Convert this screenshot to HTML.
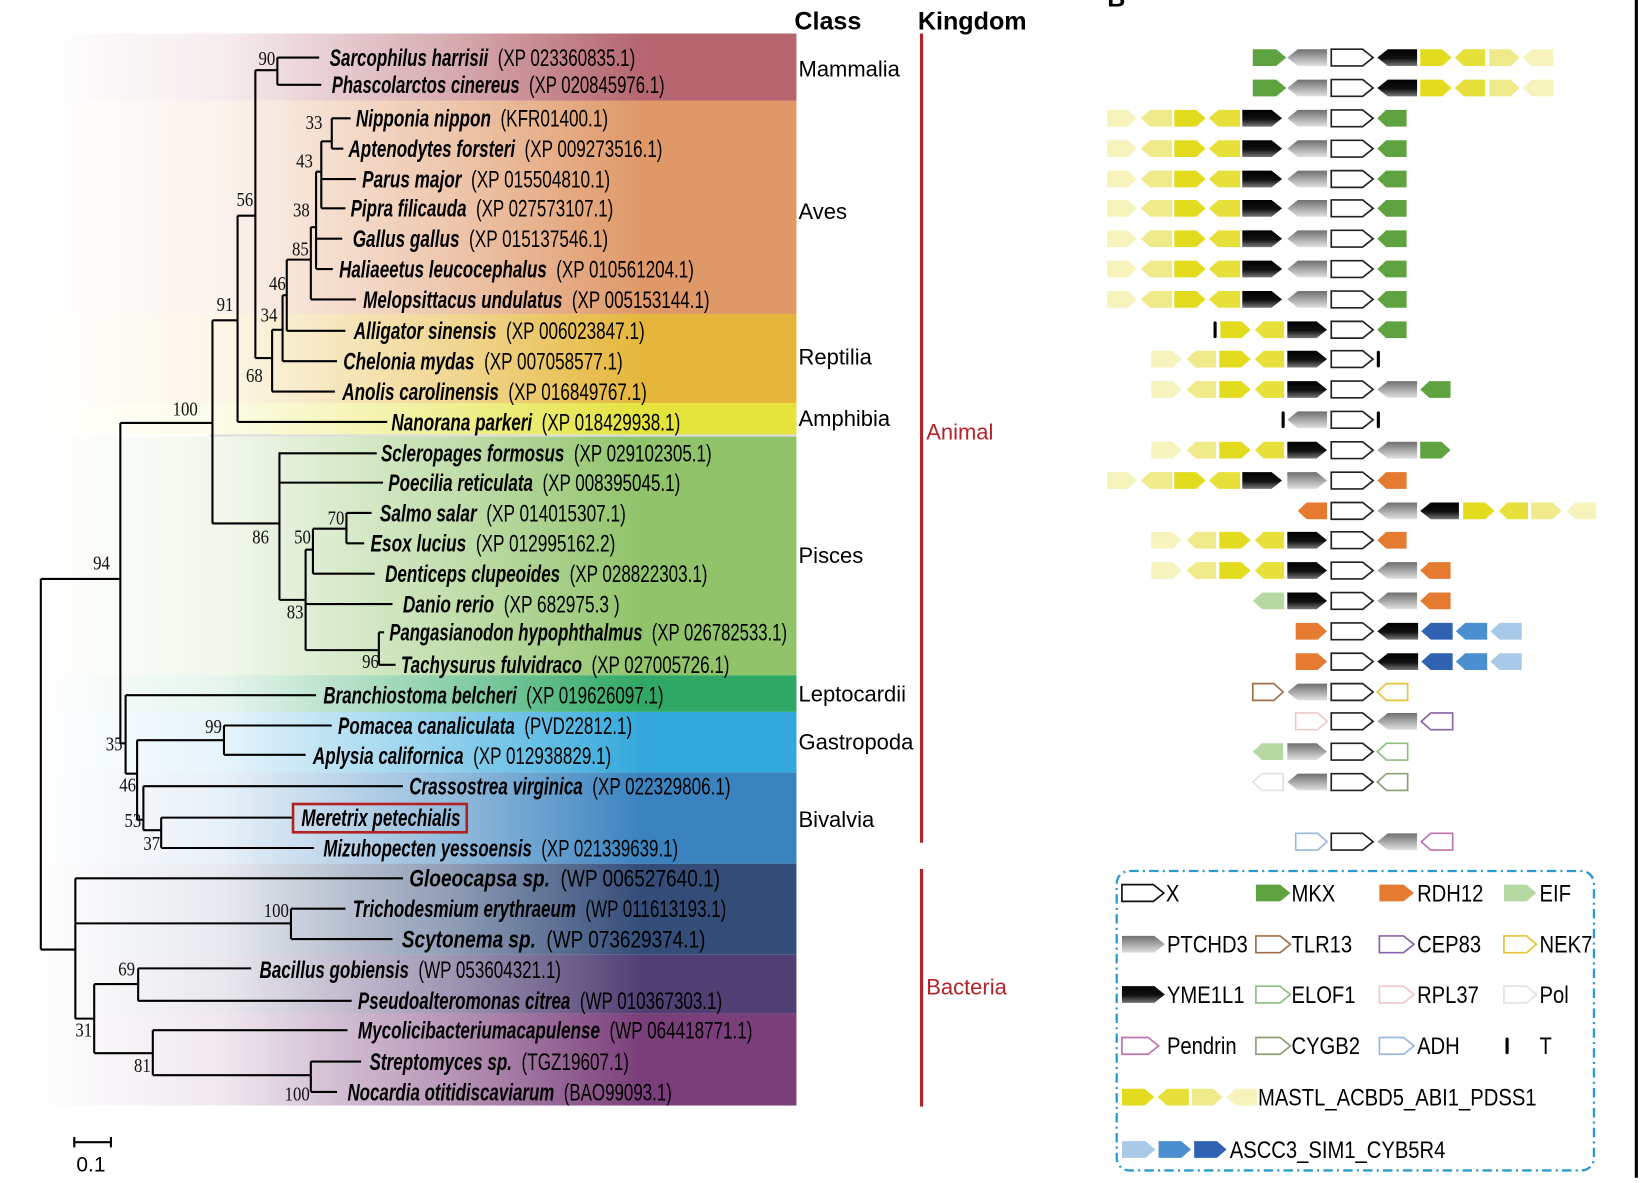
<!DOCTYPE html>
<html><head><meta charset="utf-8"><style>
html,body{margin:0;padding:0;background:#fff;width:1640px;height:1183px;overflow:hidden}
svg{display:block}
text{font-family:"Liberation Sans",sans-serif}
.bs{font-family:"Liberation Serif",serif;font-size:19px;fill:#111}
</style></head><body>
<svg id="s" width="1640" height="1183" viewBox="0 0 1567 1130" preserveAspectRatio="none" xmlns="http://www.w3.org/2000/svg">
<defs>
<linearGradient id="gGray" x1="0" y1="0" x2="0" y2="1"><stop offset="0" stop-color="#6f6f6f"/><stop offset="1" stop-color="#e0e0e0"/></linearGradient>
<linearGradient id="gBlack" x1="0" y1="0" x2="0" y2="1"><stop offset="0" stop-color="#000"/><stop offset="0.55" stop-color="#111"/><stop offset="1" stop-color="#777"/></linearGradient>
</defs>
<g id="bands"></g>
<g id="tree" stroke="#000" stroke-width="2" fill="none"></g>
<g id="labels"></g>
<g id="genes"></g>
</svg>
<script>
const NS="http://www.w3.org/2000/svg";
const S=document.getElementById('s');
function el(tag,attrs,parent,txt){const e=document.createElementNS(NS,tag);for(const k in attrs)e.setAttribute(k,attrs[k]);if(txt!==undefined)e.textContent=txt;(parent||S).appendChild(e);return e;}
const defs=S.querySelector('defs');
const bands=[[32,96,'#b5666f'],[96,300,'#df9868'],[300,385,'#e5b63a'],[385,415,'#e3e33c'],[417,645,'#90c36a'],[645,680,'#2ea864'],[680,738,'#33a8dc'],[738,825,'#3a83bf'],[825,912,'#334c78'],[912,968,'#503f73'],[968,1056,'#7a3e7a']];
const BG=document.getElementById('bands');
bands.forEach((b,i)=>{
 const g=el('linearGradient',{id:'b'+i,x1:'0',y1:'0',x2:'1',y2:'0'},defs);
 el('stop',{offset:'0','stop-color':b[2],'stop-opacity':'0'},g);
 el('stop',{offset:'0.25','stop-color':b[2],'stop-opacity':'0.12'},g);
 el('stop',{offset:'0.55','stop-color':b[2],'stop-opacity':'0.55'},g);
 el('stop',{offset:'0.8','stop-color':b[2],'stop-opacity':'1'},g);
 el('stop',{offset:'1','stop-color':b[2],'stop-opacity':'1'},g);
 el('rect',{x:30,y:b[0],width:731,height:b[1]-b[0],fill:'url(#b'+i+')'},BG);
});
el('rect',{x:200,y:415,width:561,height:2,fill:'#ddd'},BG);
const T=document.getElementById('tree');
function H(x1,x2,y){el('line',{x1:x1,y1:y,x2:x2,y2:y},T);}
function V(x,y1,y2){el('line',{x1:x,y1:y1,x2:x,y2:y2},T);}
V(39,553,907);H(39,115,553);H(39,72,907);
V(115,404,710);H(115,203,404);
V(203,306,500);H(203,227,306);
V(227,206,403);H(227,370,403);
H(227,244,206);V(244,67,342);H(244,265,67);V(265,55,81);H(265,305,55);H(265,307,81);
H(244,260,342);V(260,315,374);H(260,320,374);
H(260,270,315);V(270,282,345);H(270,322,345);
H(270,274,282);V(274,248,316);H(274,330,316);
H(274,297,248);V(297,217,286);H(297,340,286);
H(297,302,217);V(302,164,257);H(302,318,257);H(302,327,228);
H(302,307,164);V(307,135,199);H(307,330,199);H(307,340,171);
H(307,317,135);V(317,113,142);H(317,335,113);H(317,328,142);
H(203,267,500);V(267,432,573);H(267,360,433);H(267,366,461);
H(267,292,573);V(292,525,621);H(292,375,577);H(292,362,621);
V(362,604,635);H(362,367,604);H(362,378,635);
H(292,299,525);V(299,505,548);H(299,358,548);
H(299,331,505);V(331,490,519);H(331,355,490);H(331,348,519);
H(115,120,710);V(120,664,739);H(120,302,664);
H(120,131,739);V(131,707,783);H(131,214,707);V(214,693,721);H(214,317,693);H(214,292,721);
H(131,137,783);V(137,751,793);H(137,385,751);
H(137,154,793);V(154,781,810);H(154,280,781);H(154,300,810);
V(72,839,973);H(72,385,839);H(72,278,882);V(278,868,897);H(278,330,868);H(278,375,897);
H(72,90,973);V(90,940,1006);H(90,132,940);V(132,925,956);H(132,240,925);H(132,336,956);
H(90,146,1006);V(146,984,1027);H(146,332,984);H(146,297,1027);V(297,1014,1043);H(297,345,1014);H(297,322,1043);
H(70,107,1091);V(71,1086,1096);V(106,1086,1096);
const L=document.getElementById('labels');
const leaves=[
['Sarcophilus harrisii','(XP 023360835.1)',315,607,55],
['Phascolarctos cinereus','(XP 020845976.1)',317,635,81],
['Nipponia nippon','(KFR01400.1)',340,581,113],
['Aptenodytes forsteri','(XP 009273516.1)',333,633,142],
['Parus major','(XP 015504810.1)',346,583,171],
['Pipra filicauda','(XP 027573107.1)',335,586,199],
['Gallus gallus','(XP 015137546.1)',337,581,228],
['Haliaeetus leucocephalus','(XP 010561204.1)',324,663,257],
['Melopsittacus undulatus','(XP 005153144.1)',347,678,286],
['Alligator sinensis','(XP 006023847.1)',338,616,316],
['Chelonia mydas','(XP 007058577.1)',328,595,345],
['Anolis carolinensis','(XP 016849767.1)',327,618,374],
['Nanorana parkeri','(XP 018429938.1)',374,650,403],
['Scleropages formosus','(XP 029102305.1)',364,680,433],
['Poecilia reticulata','(XP 008395045.1)',371,650,461],
['Salmo salar','(XP 014015307.1)',363,598,490],
['Esox lucius','(XP 012995162.2)',354,588,519],
['Denticeps clupeoides','(XP 028822303.1)',368,676,548],
['Danio rerio','(XP 682975.3 )',385,592,577],
['Pangasianodon hypophthalmus','(XP 026782533.1)',372,752,604],
['Tachysurus fulvidraco','(XP 027005726.1)',383,697,635],
['Branchiostoma belcheri','(XP 019626097.1)',309,634,664],
['Pomacea canaliculata','(PVD22812.1)',323,604,693],
['Aplysia californica','(XP 012938829.1)',299,584,722],
['Crassostrea virginica','(XP 022329806.1)',391,698,751],
['Meretrix petechialis','',288,440,781],
['Mizuhopecten yessoensis','(XP 021339639.1)',309,648,810],
['Gloeocapsa sp.','(WP 006527640.1)',391,688,839],
['Trichodesmium erythraeum','(WP 011613193.1)',337,694,868],
['Scytonema sp.','(WP 073629374.1)',384,674,897],
['Bacillus gobiensis','(WP 053604321.1)',248,536,926],
['Pseudoalteromonas citrea','(WP 010367303.1)',342,690,956],
['Mycolicibacteriumacapulense','(WP 064418771.1)',342,719,984],
['Streptomyces sp.','(TGZ19607.1)',353,601,1014],
['Nocardia otitidiscaviarum','(BAO99093.1)',332,642,1043]];
leaves.forEach(l=>{
 const t=el('text',{x:l[2],y:l[4]+8,'font-size':23,textLength:l[3]-l[2],lengthAdjust:'spacingAndGlyphs',fill:'#000'},L);
 el('tspan',{'font-weight':'bold','font-style':'italic'},t,l[0]);
 if(l[1]) el('tspan',{},t,'\u00a0 '+l[1]);
});
el('rect',{x:280,y:768,width:166,height:27,fill:'none',stroke:'#b22222','stroke-width':2.5},L);
const bs=[['90',255,55],['33',300,116],['43',291,153],['56',234,190],['38',288,200],['85',287,237],['46',265,270],['91',215,290],['34',257,300],['68',243,358],['100',177,390],['86',249,512],['70',321,494],['50',289,512],['83',282,584],['96',354,631],['94',97,537],['99',204,693],['35',109,710],['46',122,749],['53',127,783],['37',145,805],['100',264,869],['69',121,925],['31',80,983],['81',136,1017],['100',284,1044]];
bs.forEach(b=>{const w=b[0].length*8;el('text',{x:b[1]-w/2,y:b[2]+7,class:'bs',textLength:w,lengthAdjust:'spacingAndGlyphs'},L,b[0]);});
el('text',{x:73,y:1119,'font-size':20,fill:'#000'},L,'0.1');
[['Mammalia',65],['Aves',201],['Reptilia',340],['Amphibia',399],['Pisces',530],['Leptocardii',662],['Gastropoda',708],['Bivalvia',782]].forEach(c=>el('text',{x:763,y:c[1]+8,'font-size':21,fill:'#000'},L,c[0]));
el('text',{x:759,y:28,'font-size':24,'font-weight':'bold',fill:'#000'},L,'Class');
el('text',{x:877,y:28,'font-size':24,'font-weight':'bold',fill:'#000'},L,'Kingdom');
el('rect',{x:879,y:32,width:3,height:773,fill:'#b5232a'},L);
el('rect',{x:879,y:830,width:3,height:227,fill:'#b5232a'},L);
el('text',{x:885,y:420,'font-size':21,fill:'#b5232a'},L,'Animal');
el('text',{x:885,y:950,'font-size':21,fill:'#b5232a'},L,'Bacteria');
el('rect',{x:1562,y:0,width:3,height:1125,fill:'#000'},L);
el('text',{x:1058,y:6,'font-size':24,'font-weight':'bold',fill:'#000'},L,'B');
const G=document.getElementById('genes');
const C={Y1:'#e3dc1e',Y2:'#e8e03a',Y3:'#efea8a',Y4:'#f6f3bc',GR:'#5ea33f',OR:'#e57a31',LG:'#b6d9a4',B1:'#2f62b0',B2:'#4a8fd0',B3:'#a8cae8',K:'url(#gBlack)',S:'url(#gGray)'};
function gene(x,y,w,d,fill,stroke,h){h=h||16;const p=Math.min(10,w*0.3);let pts;
 if(d==='R')pts=[[x,y-h/2],[x+w-p,y-h/2],[x+w,y],[x+w-p,y+h/2],[x,y+h/2]];
 else pts=[[x+p,y-h/2],[x+w,y-h/2],[x+w,y+h/2],[x+p,y+h/2],[x,y]];
 el('polygon',{points:pts.map(q=>q.join(',')).join(' '),fill:stroke?'#fff':fill,stroke:stroke||'none','stroke-width':stroke?1.6:0},G);}
function bar(x,y){el('rect',{x:x-1.5,y:y-8,width:3,height:16,rx:1.5,fill:'#000'},G);}
function Xg(y){gene(1272,y,40,'R',null,'#222');}
function stdLeft(y){gene(1058,y,28,'R',C.Y4);gene(1090,y,30,'L',C.Y3);gene(1122,y,30,'R',C.Y1);gene(1155,y,30,'L',C.Y2);}
function midLeft(y){gene(1100,y,29,'R',C.Y4);gene(1134,y,28,'L',C.Y3);gene(1165,y,30,'R',C.Y1);gene(1199,y,28,'L',C.Y2);}
const ry=[55,84,113,142,171,199,228,257,286,315,343,372,401,430,459,488,516,545,574,603,632,661,689,718,747,775,804];
for(let i=0;i<2;i++){const y=ry[i];gene(1197,y,32,'R',C.GR);gene(1230,y,38,'L',C.S);Xg(y);gene(1316,y,38,'L',C.K);gene(1357,y,30,'R',C.Y1);gene(1390,y,29,'L',C.Y2);gene(1423,y,29,'R',C.Y3);gene(1455,y,29,'L',C.Y4);}
for(let i=2;i<9;i++){const y=ry[i];stdLeft(y);gene(1187,y,38,'R',C.K);gene(1230,y,38,'L',C.S);Xg(y);gene(1316,y,28,'L',C.GR);}
let y=ry[9];bar(1161,y);gene(1166,y,29,'R',C.Y1);gene(1199,y,28,'L',C.Y2);gene(1230,y,38,'R',C.K);Xg(y);gene(1316,y,28,'L',C.GR);
y=ry[10];midLeft(y);gene(1230,y,38,'R',C.K);Xg(y);bar(1317,y);
y=ry[11];midLeft(y);gene(1230,y,38,'R',C.K);Xg(y);gene(1316,y,38,'L',C.S);gene(1357,y,29,'L',C.GR);
y=ry[12];bar(1226,y);gene(1230,y,38,'L',C.S);Xg(y);bar(1317,y);
y=ry[13];midLeft(y);gene(1230,y,38,'R',C.K);Xg(y);gene(1316,y,38,'L',C.S);gene(1357,y,29,'R',C.GR);
y=ry[14];stdLeft(y);gene(1187,y,38,'R',C.K);gene(1230,y,38,'R',C.S);Xg(y);gene(1316,y,28,'L',C.OR);
y=ry[15];gene(1240,y,28,'L',C.OR);Xg(y);gene(1316,y,38,'L',C.S);gene(1357,y,37,'L',C.K);gene(1398,y,30,'R',C.Y1);gene(1432,y,28,'L',C.Y2);gene(1463,y,29,'R',C.Y3);gene(1497,y,28,'L',C.Y4);
y=ry[16];midLeft(y);gene(1230,y,38,'R',C.K);Xg(y);gene(1316,y,28,'L',C.OR);
y=ry[17];midLeft(y);gene(1230,y,38,'R',C.K);Xg(y);gene(1316,y,38,'L',C.S);gene(1357,y,29,'L',C.OR);
y=ry[18];gene(1197,y,30,'L',C.LG);gene(1230,y,38,'R',C.K);Xg(y);gene(1316,y,38,'L',C.S);gene(1357,y,29,'L',C.OR);
for(const i of [19,20]){y=ry[i];gene(1238,y,30,'R',C.OR);Xg(y);gene(1316,y,39,'L',C.K);gene(1358,y,30,'L',C.B1);gene(1391,y,30,'L',C.B2);gene(1424,y,30,'L',C.B3);}
y=ry[21];gene(1197,y,29,'R',null,'#a0704a');gene(1230,y,38,'L',C.S);Xg(y);gene(1316,y,29,'L',null,'#e8c33a');
y=ry[22];gene(1238,y,30,'R',null,'#f0c8c8');Xg(y);gene(1316,y,38,'L',C.S);gene(1358,y,30,'L',null,'#8a64a8');
y=ry[23];gene(1197,y,29,'L',C.LG);gene(1230,y,38,'R',C.S);Xg(y);gene(1316,y,29,'L',null,'#8cbf80');
y=ry[24];gene(1197,y,29,'L',null,'#e2e2e2');gene(1230,y,38,'L',C.S);Xg(y);gene(1316,y,29,'L',null,'#8ca078');
y=ry[26];gene(1238,y,30,'R',null,'#9ab8dc');Xg(y);gene(1316,y,38,'L',C.S);gene(1358,y,30,'L',null,'#c072b0');
el('rect',{x:1067,y:832,width:456,height:286,rx:12,fill:'none',stroke:'#2a9bd0','stroke-width':2.2,'stroke-dasharray':'9,4,2,4'},G);
function lt(x,y,s){el('text',{x:0,y:0,'font-size':23,fill:'#000',transform:'translate('+x+','+(y+8)+') scale(0.84,1)'},G,s);}
const r=[853,902,950,999,1048,1098];
gene(1072,r[0],40,'R',null,'#111');lt(1114,r[0],'X');
gene(1200,r[0],33,'R',C.GR);lt(1234,r[0],'MKX');
gene(1318,r[0],33,'R',C.OR);lt(1354,r[0],'RDH12');
gene(1437,r[0],31,'R',C.LG);lt(1471,r[0],'EIF');
gene(1072,r[1],41,'R',C.S);lt(1115,r[1],'PTCHD3');
gene(1200,r[1],33,'R',null,'#a0704a');lt(1234,r[1],'TLR13');
gene(1318,r[1],33,'R',null,'#8a64a8');lt(1354,r[1],'CEP83');
gene(1437,r[1],31,'R',null,'#e8c33a');lt(1471,r[1],'NEK7');
gene(1072,r[2],41,'R',C.K);lt(1115,r[2],'YME1L1');
gene(1200,r[2],33,'R',null,'#8cbf80');lt(1234,r[2],'ELOF1');
gene(1318,r[2],33,'R',null,'#f0c8c8');lt(1354,r[2],'RPL37');
gene(1437,r[2],31,'R',null,'#e2e2e2');lt(1471,r[2],'Pol');
gene(1072,r[3],35,'R',null,'#c072b0');lt(1115,r[3],'Pendrin');
gene(1200,r[3],33,'R',null,'#8ca078');lt(1234,r[3],'CYGB2');
gene(1318,r[3],33,'R',null,'#9ab8dc');lt(1354,r[3],'ADH');
bar(1440,r[3]);lt(1471,r[3],'T');
gene(1072,r[4],31,'R',C.Y1);gene(1106,r[4],30,'L',C.Y2);gene(1139,r[4],29,'R',C.Y3);gene(1172,r[4],29,'L',C.Y4);lt(1202,r[4],'MASTL_ACBD5_ABI1_PDSS1');
gene(1072,r[5],32,'R',C.B3);gene(1107,r[5],31,'R',C.B2);gene(1141,r[5],31,'R',C.B1);lt(1175,r[5],'ASCC3_SIM1_CYB5R4');
</script>
</body></html>
